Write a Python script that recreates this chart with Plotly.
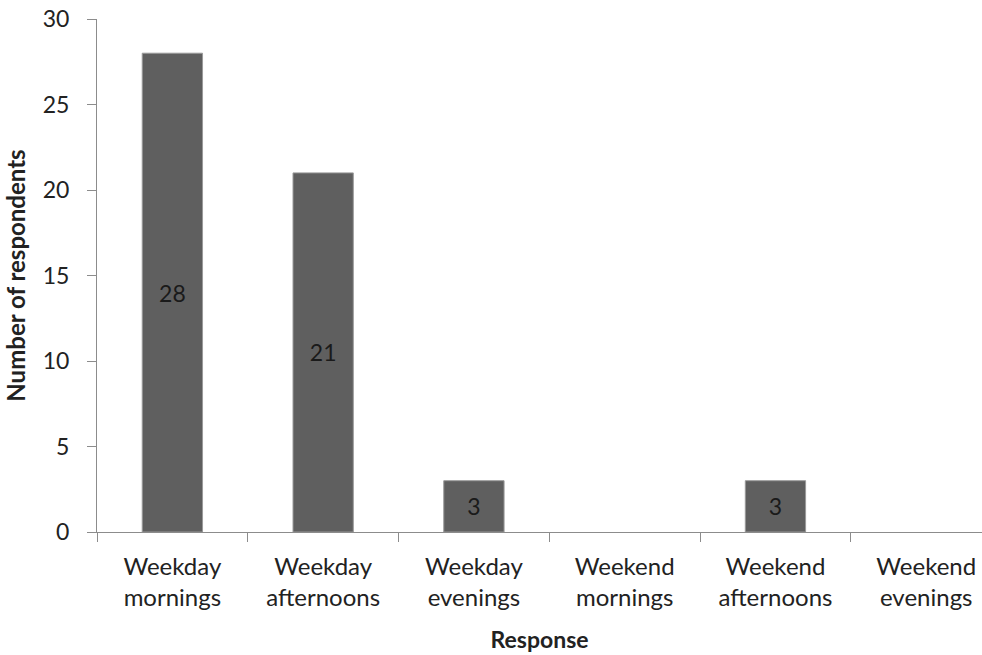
import plotly.graph_objects as go

# 資料
categories = ['Weekday<br>mornings', 'Weekday<br>afternoons', 'Weekday<br>evenings',
              'Weekend<br>mornings', 'Weekend<br>afternoons', 'Weekend<br>evenings']
respondents = [28, 21, 3, 0, 3, 0]
bar_labels = ['28', '21', '3', '', '3', '']

fig = go.Figure()
fig.add_trace(go.Bar(x=categories, y=respondents, text=bar_labels,
                     textposition='inside', insidetextanchor='middle',
                     textfont=dict(size=23, color='#1a1a1a'),
                     marker=dict(color='#5f5f5f',
                                 line=dict(color='#9a9a9a', width=[1 if v else 0 for v in respondents])),
                     showlegend=False))

fig.update_layout(width=982, height=655, plot_bgcolor='white', paper_bgcolor='white',
                  margin=dict(l=97, r=0, t=19, b=123), bargap=0.6,
                  font=dict(family='Lato, Open Sans, sans-serif', size=24, color='#222'))

# x軸: 類別邊界上的刻度, 右邊被裁掉一點
fig.update_xaxes(range=[-0.5, 5.37], showline=True, linecolor='#8c8c8c', linewidth=1,
                 ticks='outside', tickson='boundaries', ticklen=9, tickcolor='#8c8c8c',
                 showgrid=False, tickfont=dict(size=24), ticklabelstandoff=13,
                 ticklabeloverflow='allow', automargin=False,
                 title=dict(text='<b>Response</b>', font=dict(size=23), standoff=21))
fig.update_yaxes(range=[0, 30], dtick=5, showline=True, linecolor='#8c8c8c', linewidth=1,
                 ticks='outside', ticklen=9, tickcolor='#8c8c8c', showgrid=False,
                 zeroline=False, tickfont=dict(size=23), ticklabelstandoff=13,
                 ticklabeloverflow='allow', automargin=False,
                 title=dict(text='<b>Number of respondents</b>', font=dict(size=24), standoff=10))

# 拿掉 body 的預設邊距, 不要 modebar
fig.write_html("out.html", config={'displayModeBar': False},
               post_script="document.body.style.margin='0';document.body.style.overflow='hidden';")
